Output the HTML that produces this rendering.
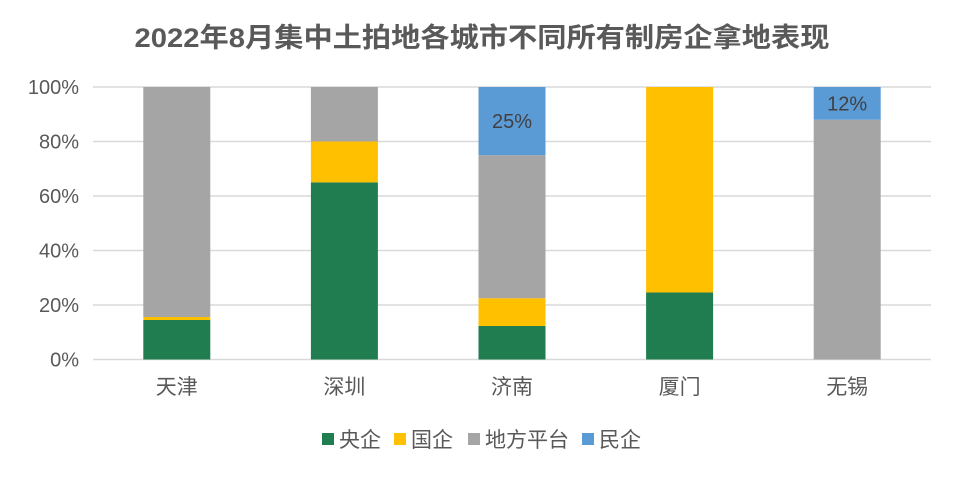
<!DOCTYPE html>
<html><head><meta charset="utf-8"><style>
body{margin:0;background:#fff;}
svg text{font-family:"Liberation Sans","Noto Sans CJK SC",sans-serif;}
</style></head><body>
<svg width="964" height="480" viewBox="0 0 964 480" id="c">
<rect width="964" height="480" fill="#fff"/>
<text x="482" y="47" text-anchor="middle" font-size="27" font-weight="bold" fill="#595959" textLength="695" lengthAdjust="spacingAndGlyphs">2022年8月集中土拍地各城市不同所有制房企拿地表现</text>
<g id="grid"></g><g id="bars"></g><g id="labels"></g><g id="legend"></g>
</svg>
<script>
const categories=["天津","深圳","济南","厦门","无锡"];
const seriesNames=["央企","国企","地方平台","民企"];
const colors=["#1f7d50","#ffc000","#a5a5a5","#5b9bd5"];
const central=[14.5,65,12.3,24.6,0];
const stateOwned=[1.1,15,10.2,75.4,0];
const localPlatform=[84.4,20,52.5,0,88];
const privateCo=[0,0,25,0,12];
const valueLabels=[null,null,"25%",null,"12%"];
const yTicks=[0,20,40,60,80,100];
const ns="http://www.w3.org/2000/svg";
const L=93,R=931,T=87,B=359.5;
const y=v=>B-(B-T)*v/100;
const bw=(R-L)/categories.length;
const x=i=>L+bw*(i+0.5);
function mk(t,a,p){const e=document.createElementNS(ns,t);for(const k in a)e.setAttribute(k,a[k]);p.appendChild(e);return e;}
const g=document.getElementById('grid');
yTicks.forEach(t=>{
 const l=mk('line',{x1:L,x2:R,y1:y(t),y2:y(t),stroke:'#d9d9d9','stroke-width':1.5},g);
 
 
 const tx=mk('text',{x:79,y:y(t)+7,'text-anchor':'end','font-size':20,fill:'#595959'},g);
 tx.textContent=t+'%';
 
 
});
const series=[central,stateOwned,localPlatform,privateCo];
const bg=document.getElementById('bars');
categories.forEach((c,i)=>{
 let acc=0;
 series.forEach((s,k)=>{
  const v=s[i];if(v<=0)return;
  const r=mk('rect',{x:x(i)-33.5,width:67,y:y(acc+v),height:y(acc)-y(acc+v),fill:colors[k]},bg);
  
  
  acc+=v;
 });
 if(valueLabels[i]){
  const t=mk('text',{x:x(i),y:y(100-privateCo[i]/2)+7,'text-anchor':'middle','font-size':20,fill:'#404040'},bg);
  t.textContent=valueLabels[i];
  
  
 }
 const t=mk('text',{x:x(i),y:394,'text-anchor':'middle','font-size':21,fill:'#595959'},document.getElementById('labels'));
 t.textContent=c;
 
 
});
const lg=document.getElementById('legend');
const lx=[322,394,468,582];
seriesNames.forEach((n,k)=>{
 const r=mk('rect',{x:lx[k],y:433,width:12,height:12,fill:colors[k]},lg);
 
 
 const t=mk('text',{x:lx[k]+17,y:447,'font-size':21,fill:'#595959'},lg);
 t.textContent=n;
 
 
});
</script>
</body></html>
